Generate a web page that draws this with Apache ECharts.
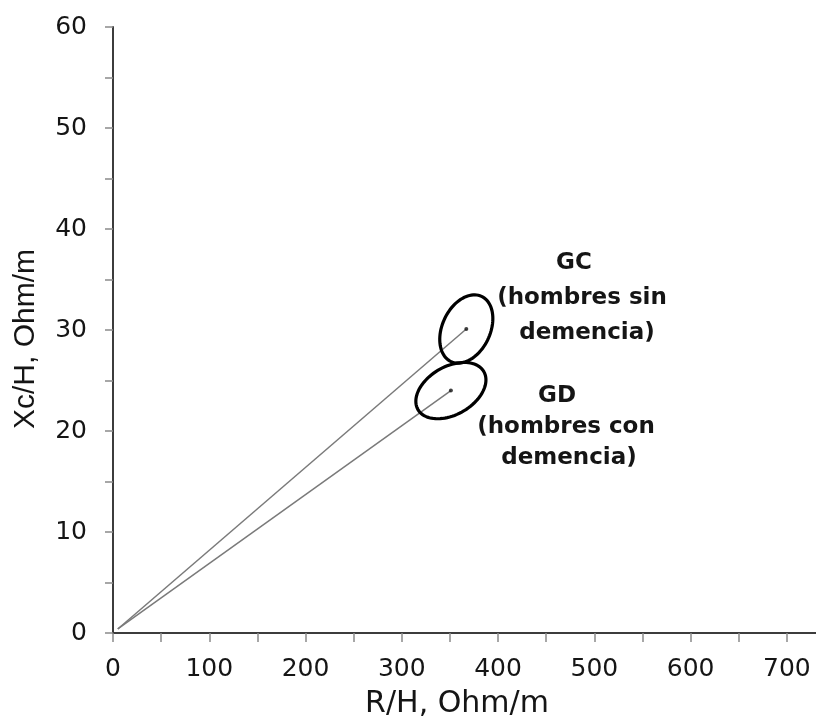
<!DOCTYPE html>
<html>
<head>
<meta charset="utf-8">
<script src="https://cdn.jsdelivr.net/npm/echarts@6/dist/echarts.min.js"></script>
<style>
  html, body { margin: 0; padding: 0; background: #fff; }
  #chart { width: 816px; height: 722px; }
</style>
</head>
<body>
<div id="chart"></div>
<script>
// Group means of the resistance–reactance vectors (R/H, Xc/H)
const groupNames = ['GC', 'GD'];
const vectorOrigin = [5, 0.4];
const groupR = [367, 351];
const groupXc = [30.1, 24.0];
// Confidence ellipses: centre (R, Xc), half-axis u (R, Xc), half-axis v (R, Xc)
const ellipseGC = [367, 30.1, 15.8, 3.23, 22.6, -1.0];
const ellipseGD = [351, 24.0, 34.2, 1.88, 12.5, -2.06];
// Annotation lines for each group
const labelGC = ['GC', '(hombres sin', 'demencia)'];
const labelGD = ['GD', '(hombres con', 'demencia)'];
// Axis settings
const xTickStep = 50, xLabelStep = 100, xMin = 0, xMax = 750;
const yTickStep = 5, yLabelStep = 10, yMin = 0, yMax = 60;
const xTitle = 'R/H, Ohm/m';
const yTitle = 'Xc/H, Ohm/m';

const chart = echarts.init(document.getElementById('chart'), null, { renderer: 'canvas' });

const axisFont = 'DejaVu Sans';
const textColor = '#151515';

const vectorSeries = groupNames.map((name, i) => ({
  name: name,
  type: 'line',
  data: [vectorOrigin, [groupR[i], groupXc[i]]],
  symbol: 'none',
  lineStyle: { color: '#7a7a7a', width: 1.5 },
  silent: true,
  z: 2
}));

const ellipseSeries = {
  type: 'custom',
  data: [ellipseGC, ellipseGD],
  renderItem: function (params, api) {
    const cx = api.value(0), cy = api.value(1);
    const ux = api.value(2), uy = api.value(3);
    const vx = api.value(4), vy = api.value(5);
    const pts = [];
    const n = 90;
    for (let k = 0; k < n; k++) {
      const t = (k / n) * Math.PI * 2;
      const c = Math.cos(t), s = Math.sin(t);
      pts.push(api.coord([cx + c * ux + s * vx, cy + c * uy + s * vy]));
    }
    return {
      type: 'polygon',
      shape: { points: pts, smooth: 0 },
      style: { fill: 'none', stroke: '#000', lineWidth: 3.2 }
    };
  },
  silent: true,
  z: 3
};

const pointSeries = {
  type: 'scatter',
  data: groupR.map((r, i) => [r, groupXc[i]]),
  symbol: 'circle',
  symbolSize: 4,
  itemStyle: { color: '#111' },
  silent: true,
  z: 4
};

function annotation(lines, centres) {
  return lines.map((t, i) => ({
    type: 'text',
    x: centres[i][0],
    y: centres[i][1],
    style: {
      text: t,
      fontFamily: axisFont,
      fontWeight: 'bold',
      fontSize: 23,
      fill: textColor,
      textAlign: 'center',
      textVerticalAlign: 'middle'
    }
  }));
}

chart.setOption({
  animation: false,
  backgroundColor: '#fff',
  grid: {
    left: 113, top: 27, width: 722, height: 606,
    containLabel: false,
    outerBoundsMode: 'none'
  },
  xAxis: {
    type: 'value',
    min: xMin, max: xMax, interval: xTickStep,
    splitLine: { show: false },
    axisLine: { onZero: true, lineStyle: { color: '#3c3c3c', width: 2 } },
    axisTick: { show: true, length: 9, lineStyle: { color: '#8a8a8a', width: 1.5 } },
    axisLabel: {
      margin: 24,
      verticalAlign: 'top',
      fontFamily: axisFont, fontSize: 25, color: textColor,
      formatter: v => (v % xLabelStep === 0 && v <= 700) ? String(v) : ''
    }
  },
  yAxis: {
    type: 'value',
    min: yMin, max: yMax, interval: yTickStep,
    splitLine: { show: false },
    axisLine: { onZero: true, lineStyle: { color: '#3c3c3c', width: 2 } },
    axisTick: { show: true, length: 8, lineStyle: { color: '#8a8a8a', width: 1.5 } },
    axisLabel: {
      margin: 26,
      fontFamily: axisFont, fontSize: 25, color: textColor,
      formatter: v => (v % yLabelStep === 0) ? String(v) : ''
    }
  },
  series: [...vectorSeries, ellipseSeries, pointSeries],
  graphic: [
    {
      type: 'text', x: 457, y: 704,
      style: {
        text: xTitle, fontFamily: axisFont, fontSize: 30, fill: textColor,
        textAlign: 'center', textVerticalAlign: 'middle'
      }
    },
    {
      type: 'text', x: 26, y: 339, rotation: Math.PI / 2,
      style: {
        text: yTitle, fontFamily: 'Liberation Sans', fontSize: 30, fill: textColor,
        textAlign: 'center', textVerticalAlign: 'middle'
      }
    },
    ...annotation(labelGC, [[574, 263], [582, 298], [587, 333]]),
    ...annotation(labelGD, [[557, 396], [566, 427], [569, 458]])
  ]
});
</script>
</body>
</html>
